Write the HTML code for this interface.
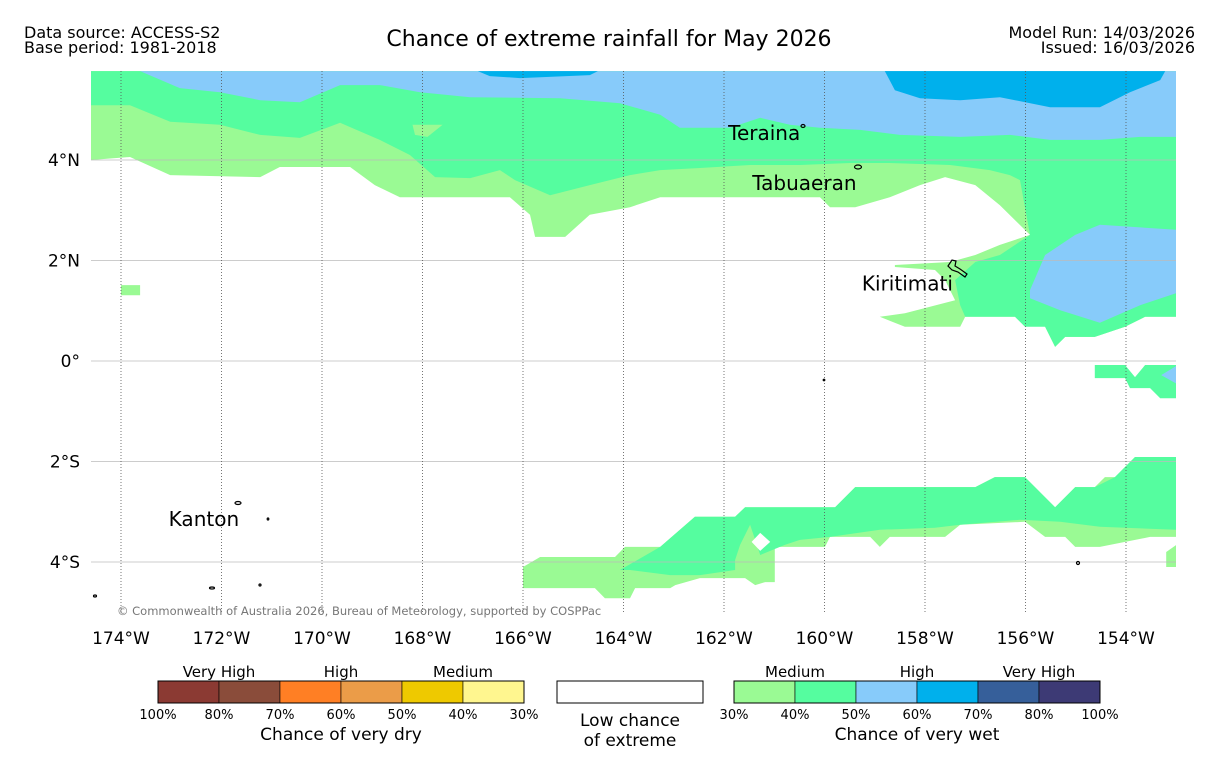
<!DOCTYPE html>
<html><head><meta charset="utf-8"><style>
body{margin:0;background:#fff;width:1219px;height:758px;overflow:hidden;font-family:"Liberation Sans",sans-serif}
svg text{font-family:"DejaVu Sans","Liberation Sans",sans-serif}
</style></head><body>
<svg id="chart" width="1219" height="758" xmlns="http://www.w3.org/2000/svg">
<text x="24" y="38" font-size="16">Data source: ACCESS-S2</text>
<text x="24" y="53" font-size="16">Base period: 1981-2018</text>
<text x="609" y="46" font-size="22" text-anchor="middle">Chance of extreme rainfall for May 2026</text>
<text x="1195" y="38" font-size="16" text-anchor="end">Model Run: 14/03/2026</text>
<text x="1195" y="53" font-size="16" text-anchor="end">Issued: 16/03/2026</text>
<defs><clipPath id="mapclip"><rect x="91" y="71" width="1085" height="541"/></clipPath></defs>
<g id="map" clip-path="url(#mapclip)"></g>
<g id="axes"></g>
<g id="legend"></g>
</svg>
<script>
// ---- data (lon/lat degrees, west negative) ----
const lonTicks=[-174,-172,-170,-168,-166,-164,-162,-160,-158,-156,-154];
const lonLabels=["174°W","172°W","170°W","168°W","166°W","164°W","162°W","160°W","158°W","156°W","154°W"];
const latTicks=[4,2,0,-2,-4];
const latLabels=["4°N","2°N","0°","2°S","4°S"];
const lightGreenNorth=[-174.6,5.77,-153,5.77,-153,0.88,-153.62,0.88,-154.02,0.68,-154.62,0.48,-155.21,0.48,-155.41,0.28,-155.61,0.68,-156.01,0.88,-157.2,0.88,-157.3,0.68,-158.4,0.68,-158.9,0.88,-158.4,0.95,-157.4,1.21,-157.6,1.61,-157.8,1.81,-158.6,1.87,-158.6,1.91,-157.5,1.97,-157.0,2.11,-156.51,2.31,-155.91,2.51,-156.51,3.1,-157.0,3.5,-157.6,3.66,-158.1,3.5,-158.7,3.26,-159.39,3.06,-159.89,3.06,-160.09,3.26,-163.27,3.26,-163.87,3.06,-164.67,2.91,-165.16,2.47,-165.76,2.47,-165.86,2.91,-166.26,3.26,-168.45,3.26,-168.95,3.5,-169.44,3.86,-170.84,3.86,-171.23,3.66,-173.02,3.7,-173.82,4.06,-174.6,4.0];
const medGreenNorth=[-174.6,5.77,-153,5.77,-153,0.88,-153.62,0.88,-154.02,0.68,-154.62,0.48,-155.21,0.48,-155.41,0.28,-155.61,0.68,-156.01,0.68,-156.21,0.88,-157.2,0.88,-157.3,1.11,-157.4,1.61,-157.0,1.97,-156.51,2.11,-155.91,2.51,-156.11,3.6,-156.31,3.7,-156.71,3.8,-157.5,3.9,-158.7,3.94,-159.49,3.94,-160.49,3.9,-161.48,3.9,-162.48,3.84,-163.27,3.8,-163.87,3.7,-164.67,3.5,-165.46,3.3,-166.16,3.6,-166.46,3.8,-167.05,3.64,-167.75,3.66,-168.25,4.1,-168.85,4.4,-169.64,4.74,-170.44,4.44,-171.23,4.5,-172.03,4.7,-173.02,4.76,-173.82,5.09,-174.6,5.09];
const lightBlueNorth=[-173.62,5.77,-153,5.77,-153,4.46,-153.72,4.46,-154.52,4.4,-155.51,4.4,-156.31,4.5,-157.3,4.46,-158.5,4.5,-159.29,4.6,-160.09,4.64,-160.69,4.7,-161.28,4.84,-161.88,4.64,-162.88,4.64,-163.27,4.9,-164.07,5.13,-165.26,5.23,-167.05,5.25,-168.05,5.35,-168.85,5.49,-169.64,5.49,-170.44,5.15,-171.23,5.19,-172.03,5.35,-172.83,5.43];
const blueA=[-166.9,5.77,-164.51,5.77,-164.67,5.69,-166.06,5.63,-166.66,5.67];
const blueB=[-158.8,5.77,-153.22,5.77,-153.32,5.59,-153.92,5.35,-154.52,5.05,-155.51,5.05,-156.51,5.25,-157.3,5.19,-158.1,5.23,-158.6,5.39];
const lightBlueEast=[-155.91,1.41,-155.61,2.11,-155.01,2.51,-154.52,2.71,-153,2.61,-153,1.35,-153.72,1.11,-154.52,0.76,-155.31,1.01,-155.91,1.25];
const medGreenEast=[-154.62,-0.08,-154.02,-0.08,-153.82,-0.32,-153.62,-0.08,-153,-0.08,-153,-0.74,-153.32,-0.74,-153.52,-0.54,-153.92,-0.54,-154.02,-0.34,-154.62,-0.34];
const lightBlueEast2=[-153.3,-0.28,-153,-0.1,-153,-0.45];
const lgSquare=[-174,1.51,-173.62,1.51,-173.62,1.31,-174,1.31];
const lgBlob=[-168.2,4.7,-167.6,4.7,-167.9,4.46,-168.15,4.5];
const lightGreenSouth=[-166.0,-4.1,-165.66,-3.9,-164.17,-3.9,-163.97,-3.7,-163.27,-3.7,-162.58,-3.1,-161.78,-3.1,-161.58,-2.91,-159.79,-2.91,-159.39,-2.51,-157.0,-2.51,-156.61,-2.31,-156.01,-2.31,-155.41,-2.91,-155.01,-2.51,-154.62,-2.51,-154.42,-2.31,-154.22,-2.31,-153.82,-1.91,-153,-1.91,-153,-3.5,-153.52,-3.5,-154.52,-3.7,-155.01,-3.7,-155.21,-3.5,-155.61,-3.5,-156.01,-3.2,-157.3,-3.26,-157.6,-3.5,-158.7,-3.5,-158.9,-3.7,-159.09,-3.5,-159.89,-3.5,-159.99,-3.7,-160.99,-3.7,-160.99,-4.4,-161.18,-4.4,-161.38,-4.46,-161.58,-4.32,-162.48,-4.32,-162.97,-4.46,-163.07,-4.52,-163.77,-4.52,-163.87,-4.72,-164.37,-4.72,-164.57,-4.52,-166.0,-4.52];
const lightGreenSouthE=[-153.2,-3.8,-153,-3.66,-153,-4.1,-153.2,-4.1];
const medGreenSouth=[-164.07,-4.16,-163.27,-3.7,-162.58,-3.1,-161.78,-3.1,-161.58,-2.91,-159.79,-2.91,-159.39,-2.51,-157.0,-2.51,-156.61,-2.31,-156.01,-2.31,-155.41,-2.91,-155.01,-2.51,-154.62,-2.51,-154.22,-2.31,-153.82,-1.91,-153,-1.91,-153,-3.36,-154.52,-3.3,-155.31,-3.2,-156.11,-3.16,-157.3,-3.26,-157.8,-3.32,-158.9,-3.36,-159.89,-3.5,-160.49,-3.56,-160.79,-3.66,-161.28,-3.86,-161.38,-3.56,-161.48,-3.26,-161.68,-3.66,-161.78,-3.96,-161.78,-4.16,-162.48,-4.26,-163.07,-4.26,-163.87,-4.16];
const whiteNotch=[-161.28,-3.42,-161.08,-3.6,-161.28,-3.78,-161.45,-3.6];
const placeNames=["Teraina","Tabuaeran","Kiritimati","Kanton"];
const placeLon=[-161.2,-160.4,-158.35,-172.35];
const placeLat=[4.54,3.54,1.54,-3.14];
const dryColors=["#8b3a33","#8a4c3a","#ff7f24","#eb9c48","#eec900","#fff68f"];
const dryLabels=["100%","80%","70%","60%","50%","40%","30%"];
const wetColors=["#9afa94","#55fd9f","#87cbfa","#00b0ec","#365f9a","#3d3a75"];
const wetLabels=["30%","40%","50%","60%","70%","80%","100%"];
// ---- axis functions ----
const X=lon=>121+(lon+174)*50.25;
const Y=lat=>361-lat*50.25;
const NS="http://www.w3.org/2000/svg";
function mk(tag,attrs,parent){const e=document.createElementNS(NS,tag);for(const k in attrs)e.setAttribute(k,attrs[k]);parent.appendChild(e);return e;}
const map=document.getElementById('map'),axes=document.getElementById('axes'),leg=document.getElementById('legend');
function poly(arr,fill,name){let p=[];for(let i=0;i<arr.length;i+=2)p.push(X(arr[i]).toFixed(1)+','+Y(arr[i+1]).toFixed(1));
 const e=mk('polygon',{points:p.join(' '),fill:fill},map);
 
 }
poly(lightGreenNorth,'#9afa94','wet-30-40-north');
poly(medGreenNorth,'#55fd9f','wet-40-50-north');
poly(lightBlueNorth,'#87cbfa','wet-50-60-north');
poly(blueA,'#00b0ec','wet-60-70-a');
poly(blueB,'#00b0ec','wet-60-70-b');
poly(lightBlueEast,'#87cbfa','wet-50-60-east');
poly(medGreenEast,'#55fd9f','wet-40-50-east');
poly(lightBlueEast2,'#87cbfa','wet-50-60-east-small');
poly(lgSquare,'#9afa94','wet-30-40-square');
poly(lgBlob,'#9afa94','wet-30-40-blob');
poly(lightGreenSouth,'#9afa94','wet-30-40-south');
poly(lightGreenSouthE,'#9afa94','wet-30-40-south-east');
poly(medGreenSouth,'#55fd9f','wet-40-50-south');
poly(whiteNotch,'#ffffff','low-chance-notch');
// gridlines
latTicks.forEach((v,i)=>{const l=mk('line',{x1:91,x2:1176,y1:Y(v),y2:Y(v),stroke:'#bbb','stroke-width':0.8},map);
 
 
 const t=mk('text',{x:80,y:Y(v)+6,'font-size':17,'text-anchor':'end'},axes);t.textContent=latLabels[i];
 
 });
lonTicks.forEach((v,i)=>{const l=mk('line',{x1:X(v),x2:X(v),y1:71,y2:612,stroke:'#555','stroke-width':0.8,'stroke-dasharray':'1,2'},map);
 
 
 const t=mk('text',{x:X(v),y:644,'font-size':17,'text-anchor':'middle'},axes);t.textContent=lonLabels[i];
 
 });
// coastlines
[[803,126,2,1.5],[858,167,3.5,2],[238,503,3,1.5],[212,588,2.5,1],[1078,563,1.5,1.5],[95,596,1.5,1],[824,380,0.8,0.8],[268,519,0.8,1],[260,585,1,1]].forEach(c=>{
 const e=mk('ellipse',{cx:c[0],cy:c[1],rx:c[2],ry:c[3],fill:'none',stroke:'#000','stroke-width':1.2},map);
 
 });
const kir=mk('path',{d:'M948,266 L952,260 L956,261 L955,266 L960,269 L967,274 L965,277 L958,272 L952,270 Z',fill:'none',stroke:'#000','stroke-width':1.2},map);


placeNames.forEach((n,i)=>{const t=mk('text',{x:X(placeLon[i]),y:Y(placeLat[i])+7,'font-size':20,'text-anchor':'middle'},map);t.textContent=n;
 
 });
const cp=mk('text',{x:117,y:615,'font-size':11.5,fill:'#777'},axes);cp.textContent='© Commonwealth of Australia 2026, Bureau of Meteorology, supported by COSPPac';


// legend
function bar(x0,colors,labels,heads,title,prefix){
 colors.forEach((c,i)=>{const r=mk('rect',{x:x0+i*61,y:681,width:61,height:22,fill:c,stroke:'#000','stroke-width':0.6},leg);
  
  });
 mk('rect',{x:x0,y:681,width:366,height:22,fill:'none',stroke:'#000','stroke-width':1},leg);
 labels.forEach((l,i)=>{const t=mk('text',{x:x0+i*61,y:719,'font-size':13,'text-anchor':'middle'},leg);t.textContent=l;
  
  });
 heads.forEach((h,i)=>{const t=mk('text',{x:x0+61+i*122,y:677,'font-size':15,'text-anchor':'middle'},leg);t.textContent=h;
  
  });
 const t=mk('text',{x:x0+183,y:740,'font-size':17,'text-anchor':'middle'},leg);t.textContent=title;
 
 
}
bar(158,dryColors,dryLabels,["Very High","High","Medium"],"Chance of very dry","dry");
bar(734,wetColors,wetLabels,["Medium","High","Very High"],"Chance of very wet","wet");
const lb=mk('rect',{x:557,y:681,width:146,height:22,fill:'#fff',stroke:'#000','stroke-width':1},leg);


[["Low chance",726],["of extreme",746]].forEach(a=>{const t=mk('text',{x:630,y:a[1],'font-size':17,'text-anchor':'middle'},leg);t.textContent=a[0];
 
 });
</script>
</body></html>
